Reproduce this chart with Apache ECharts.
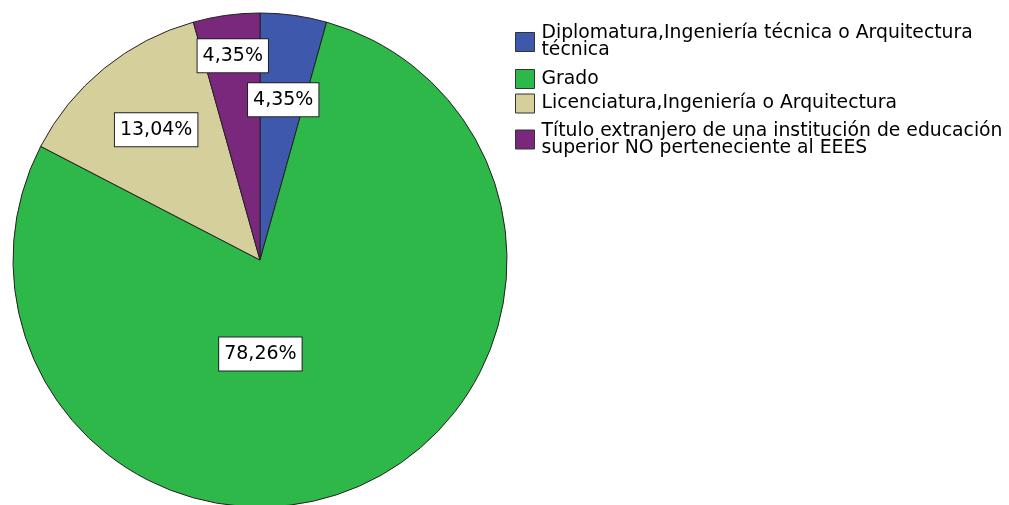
<!DOCTYPE html>
<html>
<head>
<meta charset="utf-8">
<script src="https://cdn.jsdelivr.net/npm/echarts@6/dist/echarts.min.js"></script>
<style>html,body{margin:0;padding:0;background:#fff}#c{width:1009px;height:505px}</style>
</head>
<body>
<div id="c"></div>
<script>
const categories = [
  "Diplomatura,Ingeniería técnica o Arquitectura técnica",
  "Grado",
  "Licenciatura,Ingeniería o Arquitectura",
  "Título extranjero de una institución de educación superior NO perteneciente al EEES"
];
const legendLabels = [
  "Diplomatura,Ingeniería técnica o Arquitectura\ntécnica",
  "Grado",
  "Licenciatura,Ingeniería o Arquitectura",
  "Título extranjero de una institución de educación\nsuperior NO perteneciente al EEES"
];
const counts = [1, 18, 3, 1];
const colors = ["#3e58ac", "#2eb84a", "#d5cf9c", "#7a287c"];
const labelShift = [[6, -35], [-50, -22], [-24, -32], [-10, -79]];
const legendTops = [24, 69, 93.5, 121.5];

const FONT = "'DejaVu Sans', sans-serif";
const chart = echarts.init(document.getElementById('c'));
chart.setOption({
  animation: false,
  legend: categories.map((c, i) => ({
    orient: 'vertical',
    left: 515,
    top: legendTops[i],
    padding: 0,
    icon: 'rect',
    itemWidth: 19,
    itemHeight: 19,
    itemGap: 0,
    selectedMode: false,
    itemStyle: { borderColor: '#333', borderWidth: 1 },
    textStyle: { fontFamily: FONT, fontSize: 18.8, lineHeight: 17, color: '#000', padding: [0, 0, 0, 2] },
    formatter: function (name) { return legendLabels[categories.indexOf(name)]; },
    data: [c]
  })),
  series: [{
    type: 'pie',
    center: [260, 260],
    radius: [0, 247],
    startAngle: 90,
    clockwise: true,
    silent: true,
    data: categories.map((c, i) => ({ name: c, value: counts[i], itemStyle: { color: colors[i] } })),
    itemStyle: { borderColor: '#222', borderWidth: 1 },
    label: {
      show: true,
      position: 'inside',
      formatter: p => p.percent.toFixed(2).replace('.', ',') + '%',
      fontFamily: FONT,
      fontSize: 19,
      lineHeight: 23,
      color: '#000',
      backgroundColor: '#fff',
      borderColor: '#222',
      borderWidth: 1,
      padding: [5, 5, 5, 5]
    },
    labelLayout: function (params) {
      const s = labelShift[params.dataIndex];
      return { dx: s[0], dy: s[1] };
    },
    labelLine: { show: false },
    emphasis: { disabled: true }
  }]
});
</script>
</body>
</html>
